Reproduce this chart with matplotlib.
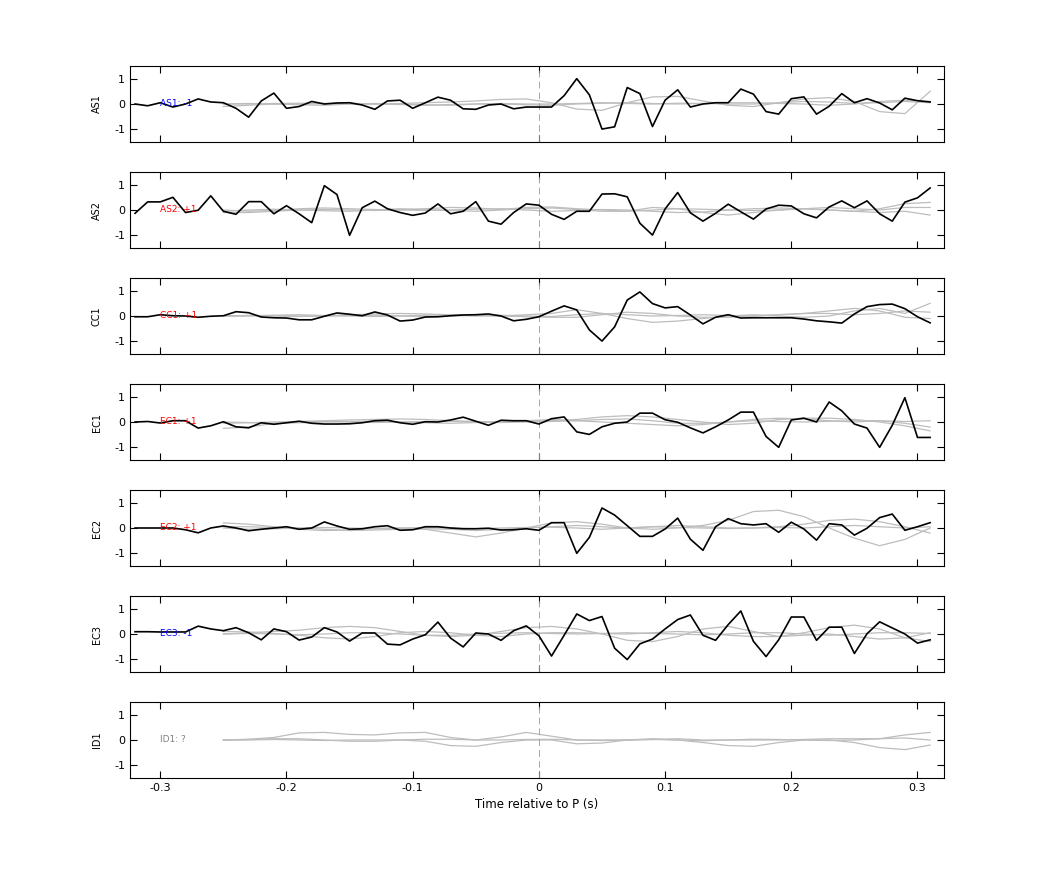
import numpy as np
import matplotlib
matplotlib.use("Agg")
import matplotlib.pyplot as plt

plt.rcParams["axes.unicode_minus"] = False

# station names, polarity labels and label colours
stations = ["AS1", "AS2", "CC1", "EC1", "EC2", "EC3", "ID1"]
pol_labels = ["AS1: -1", "AS2: +1", "CC1: +1", "EC1: +1", "EC2: +1", "EC3: -1", "ID1: ?"]
pol_colors = ["blue", "red", "red", "red", "red", "blue", "gray"]
xticks = [-0.3, -0.2, -0.1, 0, 0.1, 0.2, 0.3]
xtick_labels = ["-0.3", "-0.2", "-0.1", "0", "0.1", "0.2", "0.3"]

# observed traces, 0.01 s sampling from -0.32 s
t_obs = np.round(np.arange(-0.32, 0.315, 0.01), 2)
obs = {
    "AS1": [0, -0.07, 0.05, -0.12, 0, 0.2, 0.08, 0.05, -0.17, -0.52, 0.12, 0.43, -0.17, -0.1, 0.1, 0,
            0.04, 0.05, -0.04, -0.21, 0.12, 0.15, -0.17, 0.05, 0.27, 0.15, -0.19, -0.21, -0.04, 0, -0.19, -0.12,
            -0.12, -0.12, 0.33, 1.0, 0.36, -0.99, -0.9, 0.65, 0.41, -0.89, 0.15, 0.56, -0.12, 0, 0.05, 0.05,
            0.59, 0.39, -0.3, -0.4, 0.21, 0.28, -0.4, -0.09, 0.41, 0.05, 0.21, 0.04, -0.23, 0.23, 0.13, 0.08],
    "AS2": [-0.13, 0.32, 0.32, 0.5, -0.1, -0.01, 0.56, -0.05, -0.17, 0.33, 0.33, -0.15, 0.17, -0.15, -0.5, 0.96,
            0.61, -1.0, 0.09, 0.35, 0.05, -0.1, -0.21, -0.12, 0.24, -0.15, -0.05, 0.33, -0.44, -0.56, -0.1, 0.24,
            0.19, -0.17, -0.37, -0.05, -0.05, 0.63, 0.64, 0.52, -0.52, -0.99, 0.04, 0.69, -0.11, -0.44, -0.13, 0.23,
            -0.07, -0.36, 0.04, 0.19, 0.16, -0.15, -0.31, 0.12, 0.36, 0.09, 0.36, -0.15, -0.44, 0.31, 0.48, 0.87],
    "CC1": [-0.03, -0.03, 0.05, 0.01, 0, -0.05, -0.01, 0.01, 0.17, 0.13, -0.04, -0.07, -0.08, -0.15, -0.15, -0.01,
            0.12, 0.07, 0.01, 0.16, 0.04, -0.2, -0.16, -0.04, -0.03, 0.01, 0.04, 0.05, 0.08, 0, -0.19, -0.13,
            -0.03, 0.19, 0.4, 0.24, -0.55, -0.99, -0.43, 0.63, 0.95, 0.49, 0.32, 0.37, 0.04, -0.31, -0.05, 0.05,
            -0.08, -0.07, -0.07, -0.07, -0.07, -0.12, -0.19, -0.23, -0.28, 0.08, 0.37, 0.45, 0.47, 0.29, -0.03, -0.27],
    "EC1": [0, 0.02, -0.04, 0.05, 0.05, -0.24, -0.15, 0.01, -0.19, -0.23, -0.03, -0.09, -0.03, 0.03, -0.05, -0.08,
            -0.08, -0.07, -0.03, 0.05, 0.07, -0.03, -0.09, 0.01, 0, 0.08, 0.19, 0.03, -0.13, 0.07, 0.05, 0.05,
            -0.08, 0.13, 0.2, -0.39, -0.49, -0.19, -0.05, 0, 0.35, 0.35, 0.09, -0.01, -0.23, -0.43, -0.19, 0.08,
            0.39, 0.39, -0.57, -1.0, 0.08, 0.15, 0, 0.79, 0.44, -0.08, -0.24, -1.0, -0.13, 0.96, -0.61, -0.61],
    "EC2": [0, 0, 0, 0, -0.07, -0.19, 0, 0.08, 0, -0.11, -0.05, 0, 0.05, -0.05, 0, 0.24,
            0.08, -0.05, -0.03, 0.05, 0.09, -0.09, -0.07, 0.05, 0.05, 0, -0.03, -0.03, -0.01, -0.08, -0.07, -0.03,
            -0.09, 0.21, 0.21, -1.0, -0.37, 0.79, 0.51, 0.09, -0.33, -0.33, -0.04, 0.39, -0.44, -0.88, 0.05, 0.37,
            0.17, 0.12, 0.17, -0.17, 0.23, -0.04, -0.48, 0.17, 0.12, -0.28, -0.01, 0.41, 0.55, -0.09, 0.05, 0.21],
    "EC3": [0.09, 0.09, 0.08, 0.08, 0.08, 0.31, 0.2, 0.13, 0.25, 0.05, -0.23, 0.2, 0.09, -0.24, -0.12, 0.25,
            0.08, -0.28, 0.04, 0.04, -0.4, -0.43, -0.2, -0.03, 0.47, -0.16, -0.51, 0.04, 0, -0.25, 0.13, 0.32,
            -0.07, -0.87, -0.05, 0.79, 0.53, 0.69, -0.56, -1.01, -0.39, -0.2, 0.2, 0.57, 0.75, -0.05, -0.25, 0.37,
            0.91, -0.29, -0.89, -0.23, 0.67, 0.67, -0.25, 0.27, 0.27, -0.77, 0.01, 0.48, 0.24, 0, -0.36, -0.23],
}

# synthetic traces, 0.02 s sampling from -0.25 s
t_syn = np.round(np.arange(-0.25, 0.325, 0.02), 2)
syn = {
    "AS1": [
        [0, 0, 0.02, 0.03, 0.02, 0, 0, 0.02, 0.05, 0.08, 0.12, 0.18, 0.2, 0.05, -0.2, -0.25, 0.05, 0.28, 0.3, 0.12, -0.05, -0.1, 0.05, 0.2, 0.25, 0.1, -0.3, -0.38, 0.5],
        [-0.1, -0.05, 0, -0.03, -0.05, 0, 0.02, 0, -0.03, -0.05, 0, 0.02, 0, 0, 0.02, 0.05, 0.02, 0, 0.03, 0.02, 0, 0, 0.05, 0.1, 0.08, 0.02, 0.05, 0.1, 0.05],
        [0, 0.02, 0, 0, 0.02, 0.03, 0, -0.02, -0.05, -0.02, 0, 0, -0.03, -0.05, 0, 0.03, 0.05, 0.02, 0, 0.02, 0.05, 0.05, 0.02, 0, -0.05, 0, 0.1, 0.15, 0.1],
    ],
    "AS2": [
        [-0.1, -0.1, -0.05, 0, 0.02, 0, -0.02, 0, 0.05, 0.1, 0.08, 0.02, 0.1, 0.12, 0.05, 0, -0.05, 0.1, 0.05, -0.1, -0.2, -0.1, 0, 0.05, 0, -0.05, 0.05, 0.25, 0.3],
        [0, -0.05, -0.02, 0.05, 0.08, 0.05, 0.02, 0, -0.02, 0, 0.03, 0.05, 0, -0.05, -0.02, 0.02, 0, -0.05, -0.1, -0.08, 0, 0.05, 0.08, 0.05, 0, -0.05, -0.1, -0.05, -0.2],
        [-0.05, 0, 0.03, 0, -0.03, -0.05, 0, 0.05, 0.02, -0.02, -0.05, 0, 0.05, 0.08, 0.02, -0.05, -0.05, 0, 0.05, 0.03, 0, -0.02, 0, 0.05, 0.1, 0.05, 0, 0.1, 0.1],
    ],
    "CC1": [
        [0, 0.02, 0.02, 0, 0, 0.05, 0.08, 0.1, 0.08, 0.05, 0, 0, 0.05, 0.1, 0.25, 0.1, -0.1, -0.25, -0.2, -0.1, 0, 0.05, 0, -0.05, 0, 0.2, 0.3, 0.1, 0.5],
        [0, 0, 0.03, 0.05, 0.02, 0, -0.02, 0, 0.03, 0.05, 0.03, 0, -0.03, -0.05, -0.05, 0.05, 0.15, 0.1, 0, -0.05, -0.05, 0, 0.05, 0.1, 0.2, 0.3, 0.2, -0.05, -0.1],
        [0, 0.02, 0, -0.02, 0, 0.02, 0.03, 0, -0.02, 0, 0.02, 0.03, 0, -0.02, 0.05, 0.1, 0.05, 0, 0.02, 0.05, 0.02, 0, 0.05, 0.1, 0.1, 0.05, 0.1, 0.2, 0.15],
    ],
    "EC1": [
        [-0.25, -0.2, -0.05, 0.02, 0.05, 0.08, 0.1, 0.12, 0.1, 0.05, 0.02, 0, 0.03, 0.05, 0.1, 0.2, 0.25, 0.2, 0.1, 0, -0.1, -0.05, 0.1, 0.15, 0.15, 0.1, 0, -0.15, -0.35],
        [0, -0.02, -0.05, -0.03, 0, 0.02, 0.03, 0, -0.03, -0.05, -0.02, 0, 0.05, 0.1, 0.05, 0, -0.05, -0.1, -0.15, -0.1, 0, 0.1, 0.15, 0.12, 0.05, 0, 0.05, -0.05, -0.2],
        [-0.05, -0.03, 0, 0.02, 0.02, 0, -0.02, 0, 0.02, 0.03, 0, -0.02, 0, 0.02, 0.05, 0.1, 0.12, 0.05, -0.05, -0.05, 0, 0.05, 0.02, 0, 0.03, 0.05, 0.05, 0.02, 0.05],
    ],
    "EC2": [
        [0.2, 0.15, 0.05, -0.05, -0.1, -0.08, -0.02, 0, -0.05, -0.2, -0.35, -0.2, 0, 0.2, 0.25, 0.15, 0, -0.05, 0, 0.1, 0.3, 0.65, 0.7, 0.45, 0, -0.4, -0.7, -0.45, 0],
        [0.05, 0.05, 0.02, 0, -0.05, -0.1, -0.08, -0.05, -0.03, -0.05, -0.1, -0.05, 0, 0.05, 0.1, 0.05, 0, 0.05, 0.1, 0.05, 0, 0, 0.05, 0.15, 0.3, 0.35, 0.25, 0.05, -0.2],
        [0, -0.05, -0.03, 0, 0.02, 0, -0.02, 0, 0.02, 0, -0.02, 0, 0.02, 0.03, 0, -0.05, 0, 0.05, 0.02, 0, -0.02, 0, 0.02, 0, 0.05, 0.1, 0.05, 0, 0.05],
    ],
    "EC3": [
        [0, 0.05, 0.1, 0.15, 0.25, 0.3, 0.25, 0.1, -0.05, -0.1, -0.05, 0.1, 0.25, 0.3, 0.2, 0, -0.25, -0.3, -0.1, 0.2, 0.3, 0.1, -0.1, 0.05, 0.25, 0.35, 0.2, -0.15, -0.3],
        [0.1, 0.08, 0.02, -0.05, -0.15, -0.2, -0.1, 0.05, 0.1, 0.05, -0.05, -0.1, 0, 0.05, 0.05, 0.02, 0, 0.05, 0.1, 0.05, -0.05, -0.1, -0.1, -0.05, 0, -0.1, -0.2, -0.15, 0.05],
        [0, 0.02, 0, -0.03, 0, 0.05, 0.05, 0, -0.05, -0.05, 0, 0.03, 0.05, 0.02, 0, 0.02, 0.05, 0.02, 0, -0.03, 0, 0.05, 0.05, 0, -0.05, 0, 0.05, 0.05, 0.02],
    ],
    "ID1": [
        [0, 0.03, 0.1, 0.28, 0.3, 0.22, 0.2, 0.28, 0.3, 0.1, 0, 0.12, 0.3, 0.15, 0, 0, 0, 0.02, 0.05, 0, 0, 0, 0, 0.02, 0.05, 0.05, 0.05, 0.2, 0.3],
        [0, 0, 0.02, 0, -0.02, 0, 0, 0, -0.05, -0.22, -0.25, -0.1, 0, 0, -0.15, -0.12, 0, 0.05, 0, -0.1, -0.22, -0.25, -0.1, 0, 0, -0.1, -0.3, -0.38, -0.2],
        [0, 0.02, 0.05, 0.05, 0, -0.05, -0.05, 0, 0.03, 0.03, 0, 0, 0.02, 0.03, 0, -0.02, 0, 0.02, 0, -0.03, 0, 0.03, 0.02, 0, -0.02, 0, 0.05, 0.08, 0],
    ],
}

W, H = 1042, 875
fig = plt.figure(figsize=(W / 100, H / 100), dpi=100)
left, right = 130 / W, 944 / W
ph = 76 / H

axes = []
for i, st in enumerate(stations):
    bottom = 1 - (142 + 106 * i) / H
    ax = fig.add_axes([left, bottom, right - left, ph])
    axes.append(ax)
    for tr in syn[st]:
        ax.plot(t_syn, tr, color="#bdbdbd", lw=0.9, zorder=1)
    if st in obs:
        ax.plot(t_obs, obs[st], color="black", lw=1.2, zorder=3)
    ax.axvline(0, color="#d08080", lw=0.6, dashes=(8, 5), zorder=2)
    ax.text(-0.30, 0, pol_labels[i], color=pol_colors[i], fontsize=6.5, va="center", ha="left", zorder=4)
    ax.set_xlim(-0.324, 0.321)
    ax.set_ylim(-1.5, 1.5)
    ax.set_yticks([-1, 0, 1])
    ax.set_yticklabels(["-1", "0", "1"])
    ax.set_xticks(xticks)
    ax.tick_params(direction="in", top=True, right=True, labelsize=8, length=5)
    ax.set_ylabel(st, fontsize=7)
    ax.yaxis.set_label_coords(-0.035, 0.5)
    if i < len(stations) - 1:
        ax.set_xticklabels([])
    else:
        ax.set_xticklabels(xtick_labels)

axes[-1].set_xlabel("Time relative to P (s)", fontsize=8.5)
fig.savefig("out.png", dpi=100)
